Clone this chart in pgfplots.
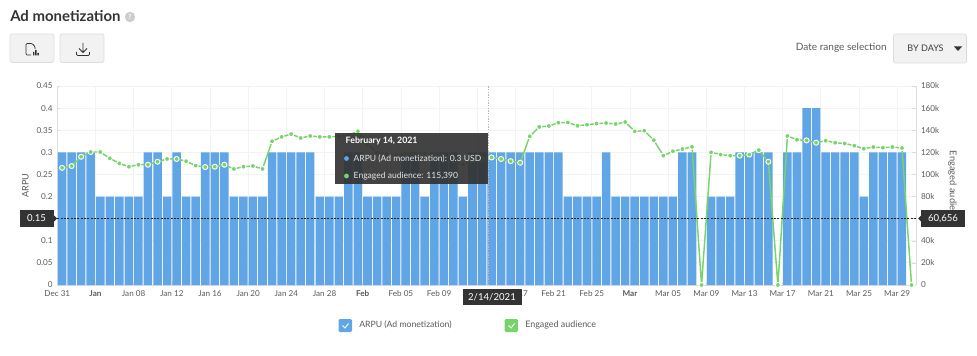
\documentclass[border=0pt]{standalone}
\usepackage{fontspec}
\setmainfont{Lato}
\usepackage{pgfplots}
\usepackage{pgfplotstable}
\pgfplotsset{compat=1.18}
\definecolor{barc}{HTML}{60A5E5}
\definecolor{linec}{HTML}{77D46B}
\definecolor{gridc}{HTML}{F3F3F3}
\definecolor{txt}{HTML}{5A5A5A}
\definecolor{boxc}{HTML}{333333}
\definecolor{btn}{HTML}{F2F2F2}
\definecolor{btnb}{HTML}{DDDDDD}
\pgfplotstableread{
i arpu aud
0 0.3 106
1 0.3 107.6
2 0.3 116
3 0.3 120.3
4 0.2 120.3
5 0.2 114.6
6 0.2 110
7 0.2 107
8 0.2 108.8
9 0.3 108.8
10 0.3 111.5
11 0.2 114
12 0.3 114
13 0.2 112
14 0.2 108
15 0.3 106.7
16 0.3 107
17 0.3 108.8
18 0.2 105
19 0.2 107
20 0.2 107.6
21 0.2 105
22 0.3 130
23 0.3 134
24 0.3 136.5
25 0.3 133
26 0.3 134.8
27 0.2 134
28 0.2 134
29 0.2 134.5
30 0.3 135.6
31 0.3 139
32 0.2 128
33 0.2 119.7
34 0.2 118.5
35 0.2 117.6
36 0.3 119
37 0.3 119
38 0.2 119
39 0.3 116.7
40 0.3 114.6
41 0.3 113
42 0.2 109
43 0.3 113
44 0.3 113.7
45 0.3 115.39
46 0.3 114
47 0.3 112
48 0.3 110.6
49 0.3 134.5
50 0.3 143
51 0.3 143.8
52 0.3 146.8
53 0.2 147
54 0.2 144
55 0.2 145
56 0.2 146
57 0.3 146.5
58 0.2 145.6
59 0.2 147.4
60 0.2 139
61 0.2 139.6
62 0.2 131
63 0.2 117
64 0.2 121
65 0.3 123
66 0.3 125
67 0 0
68 0.2 120
69 0.2 118
70 0.2 117
71 0.3 117
72 0.3 118
73 0.3 122
74 0.3 111.5
75 0 0
76 0.3 134.8
77 0.3 131.4
78 0.4 130.8
79 0.4 128.7
80 0.3 130.5
81 0.3 128.7
82 0.3 128
83 0.3 126
84 0.2 123.3
85 0.3 124.8
86 0.3 124.2
87 0.3 124.8
88 0.3 123.9
89 0 0
}\datatab
\pgfplotsset{common/.style={
  at={(42.975pt,-213.75pt)},anchor=south west,scale only axis,
  width=644.25pt,height=149.25pt,
  xmin=-0.5,xmax=89.5,
  tick label style={font=\fontsize{6.1pt}{7pt}\selectfont,text=txt},
}}
\begin{document}
\begin{tikzpicture}[x=0.75pt,y=-0.75pt]
\useasboundingbox (0,0) rectangle (977,356);
\begin{axis}[common,
  ymin=0,ymax=0.45,
  axis y line*=left, axis x line*=bottom,
  axis line style={draw=btnb,line width=0.5pt,-},
  grid=major,grid style={gridc,line width=0.6pt},
  xtick={-0.5,3.5,...,87.5},
  xticklabels={Dec 31,\textbf{Jan},Jan 08,Jan 12,Jan 16,Jan 20,Jan 24,Jan 28,\textbf{Feb},Feb 05,Feb 09,,Feb 17,Feb 21,Feb 25,\textbf{Mar},Mar 05,Mar 09,Mar 13,Mar 17,Mar 21,Mar 25,Mar 29},
  ytick={0,0.05,...,0.46},
  yticklabels={0,0.05,0.1,,0.2,0.25,0.3,0.35,0.4,0.45},
  tick style={draw=btnb,line width=0.4pt},
  major tick length=2pt,
  ylabel={ARPU},
  ylabel style={font=\fontsize{6.8pt}{8pt}\selectfont,text=txt,at={(axis description cs:0,0.5)},anchor=south,yshift=18pt},
  xticklabel style={yshift=-0.6pt},
]
\addplot[ybar,bar width=6.4pt,bar shift=0pt,fill=barc,draw=none] table[x=i,y=arpu]{\datatab};
\end{axis}
\begin{axis}[common,
  ymin=0,ymax=180,clip=false,
  axis y line*=right, axis x line=none,
  axis line style={draw=btnb,line width=0.5pt,-},
  ytick={0,20,...,180},
  yticklabels={0,20k,40k,,80k,100k,120k,140k,160k,180k},
  tick style={draw=btnb,line width=0.4pt},
  major tick length=3pt,
]
\addplot[linec,line width=1.1pt,mark=*,mark size=1.9pt,mark options={fill=linec,draw=white,line width=0.7pt,solid}] table[x=i,y=aud]{\datatab};
\draw[black!85,line width=0.45pt,dash pattern=on 1.4pt off 1.1pt] (axis cs:-0.5,60) -- (axis cs:89.5,60);
\draw[gray!55,line width=1pt,dash pattern=on 1pt off 1pt] (axis cs:44.7,0) -- (axis cs:44.7,180);
\end{axis}
% right axis title (partly hidden by the value box)
\node[rotate=-90,font=\fontsize{7pt}{8pt}\selectfont,text=txt] at (952.5,188) {Engaged audience};
% crosshair value boxes
\fill[boxc] (20,210) rectangle (54,227);
\fill[boxc] (54,215.5) -- (57,218.5) -- (54,221.5) -- cycle;
\node[font=\fontsize{7.2pt}{8pt}\selectfont,text=white] at (36.5,218.5) {0.15};
\fill[boxc] (921,210) rectangle (965,227);
\fill[boxc] (921,215.5) -- (918,218.5) -- (921,221.5) -- cycle;
\node[font=\fontsize{7.2pt}{8pt}\selectfont,text=white] at (943,218.5) {60,656};
\fill[boxc] (463,289) rectangle (522,305);
\node[font=\fontsize{7.2pt}{8pt}\selectfont,text=white] at (492,297) {2/14/2021};
% tooltip
\fill[boxc,fill opacity=0.92] (335,133) rectangle (488,183.5);
\node[anchor=west,font=\fontsize{6.6pt}{8pt}\selectfont\bfseries,text=white] at (341,141) {February 14, 2021};
\fill[barc] (346.5,158.5) circle (2.4);
\node[anchor=west,font=\fontsize{6.4pt}{8pt}\selectfont,text=white!90!black] at (349,158.5) {ARPU (Ad monetization): 0.3 USD};
\fill[linec] (346.5,176) circle (2.4);
\node[anchor=west,font=\fontsize{6.4pt}{8pt}\selectfont,text=white!90!black] at (349,176) {Engaged audience: 115,390};
% title
\node[anchor=west,inner sep=0pt,font=\fontsize{11.2pt}{13pt}\selectfont\bfseries,text=boxc] at (10,16.5) {Ad monetization};
\fill[black!20] (130,17) circle (5.2);
\node[font=\fontsize{5pt}{6pt}\selectfont\bfseries,text=white] at (130,17) {?};
% buttons
\filldraw[fill=btn,draw=btnb,line width=0.5pt,rounded corners=1.5pt] (10,34) rectangle (54,62.5);
\filldraw[fill=btn,draw=btnb,line width=0.5pt,rounded corners=1.5pt] (60,34) rectangle (104,62.5);
\draw[black!80,line width=0.55pt,rounded corners=0.8pt] (31,55) -- (26,55) -- (26,43.5) -- (32,43.5) -- (35,46.5) -- (35,49);
\fill[black!80] (33,55.3) rectangle (34.4,52) (35.2,55.3) rectangle (36.6,50) (37.4,55.3) rectangle (38.8,53);
\draw[black!80,line width=0.55pt] (83,43) -- (83,52) (79,48.5) -- (83,52.5) -- (87,48.5);
\draw[black!80,line width=0.55pt,rounded corners=0.8pt] (76.5,52) -- (76.5,55.5) -- (89.5,55.5) -- (89.5,52);
% range selector
\node[anchor=east,inner sep=0pt,font=\fontsize{7.55pt}{8pt}\selectfont,text=txt] at (887,47.5) {Date range selection};
\filldraw[fill=btn,draw=btnb,line width=0.5pt,rounded corners=1.5pt] (893.5,34) rectangle (966.5,63);
\node[font=\fontsize{6.8pt}{8pt}\selectfont,text=txt!70!black] at (925.5,48.5) {BY DAYS};
\fill[boxc] (954,46.5) -- (962,46.5) -- (958,51) -- cycle;
% legend
\fill[barc,rounded corners=1pt] (338.5,319) rectangle (352,332);
\draw[white,line width=0.7pt] (342.5,325.5) -- (345,328) -- (348.5,323.5);
\node[anchor=west,inner sep=0pt,font=\fontsize{6.5pt}{8pt}\selectfont,text=txt] at (359,325) {ARPU (Ad monetization)};
\fill[linec,rounded corners=1pt] (504.5,319) rectangle (518,332);
\draw[white,line width=0.7pt] (508.5,325.5) -- (511,328) -- (514.5,323.5);
\node[anchor=west,inner sep=0pt,font=\fontsize{6.7pt}{8pt}\selectfont,text=txt] at (525,325) {Engaged audience};
\end{tikzpicture}
\end{document}
